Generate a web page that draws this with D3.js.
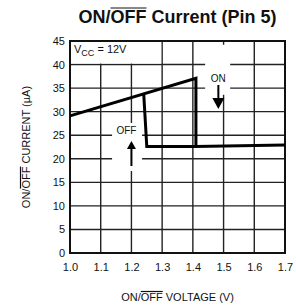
<!DOCTYPE html>
<html>
<head>
<script src="https://d3js.org/d3.v7.min.js"></script>
<style>
  body { margin: 0; background: #fff; }
  text { font-family: "Liberation Sans", Arial, sans-serif; fill: #111; }
</style>
</head>
<body>
<div id="chart"></div>
<script>
// tick labels
var xTicks = [1.0, 1.1, 1.2, 1.3, 1.4, 1.5, 1.6, 1.7];
var yTicks = [0, 5, 10, 15, 20, 25, 30, 35, 40, 45];

// ON trace: rises with voltage, snaps down at ~1.41 V, then stays flat
var onVoltage = [1.0, 1.41, 1.41, 1.7];
var onCurrent = [29.1, 37.1, 22.6, 22.9];
// OFF trace: drops back at ~1.24 V
var offVoltage = [1.24, 1.25, 1.41];
var offCurrent = [33.8, 22.6, 22.6];

var width = 296, height = 308;
// plot box (window.top is reserved, so prefix the names)
var pLeft = 70, pRight = 285, pTop = 41, pBottom = 253;

var svg = d3.select("#chart").append("svg")
    .attr("width", width)
    .attr("height", height);

var x = d3.scaleLinear().domain([1.0, 1.7]).range([pLeft, pRight]);
var y = d3.scaleLinear().domain([0, 45]).range([pBottom, pTop]);

// draw a bar over part of a text element (the "OFF" in ON/OFF)
function overline(textNode, start, len, g, lift) {
  var p = textNode.getStartPositionOfChar(start);
  var w = textNode.getSubStringLength(start, len);
  g.append("line")
    .attr("x1", p.x).attr("x2", p.x + w)
    .attr("y1", p.y - lift).attr("y2", p.y - lift)
    .attr("stroke", "#111")
    .attr("stroke-width", 1.2);
}

// title
var title = svg.append("text")
    .attr("x", (pLeft + pRight) / 2)
    .attr("y", 23)
    .attr("text-anchor", "middle")
    .style("font-size", "18px")
    .style("font-weight", "bold")
    .text("ON/OFF Current (Pin 5)");
overline(title.node(), 3, 3, svg, 15);

// grid
svg.append("g")
    .selectAll("line")
    .data(xTicks)
    .enter().append("line")
    .attr("x1", function(d) { return x(d); })
    .attr("x2", function(d) { return x(d); })
    .attr("y1", pTop).attr("y2", pBottom)
    .attr("stroke", "#222")
    .attr("stroke-width", 1.4);

svg.append("g")
    .selectAll("line")
    .data(yTicks)
    .enter().append("line")
    .attr("x1", pLeft).attr("x2", pRight)
    .attr("y1", function(d) { return y(d); })
    .attr("y2", function(d) { return y(d); })
    .attr("stroke", "#222")
    .attr("stroke-width", 1.4);

// axes (labels only)
var xAxis = svg.append("g")
    .attr("transform", "translate(0," + pBottom + ")")
    .call(d3.axisBottom(x).tickValues(xTicks).tickSize(0).tickPadding(10)
      .tickFormat(d3.format(".1f")));
var yAxis = svg.append("g")
    .attr("transform", "translate(" + pLeft + ",0)")
    .call(d3.axisLeft(y).tickValues(yTicks).tickSize(0).tickPadding(5));
[xAxis, yAxis].forEach(function(a) {
  a.select(".domain").remove();
  a.selectAll("text")
    .style("font-size", "11px")
    .style("font-family", "'Liberation Sans', Arial, sans-serif")
    .attr("fill", "#111");
});

// white boxes behind annotations
svg.append("rect")
    .attr("x", x(1.0) + 1).attr("y", y(45) + 1)
    .attr("width", x(1.3) - x(1.0) - 2).attr("height", y(40) - y(45) - 2)
    .attr("fill", "#fff");
svg.append("rect")
    .attr("x", x(1.44)).attr("y", y(44.2))
    .attr("width", 25).attr("height", 50)
    .attr("fill", "#fff");
svg.append("rect")
    .attr("x", x(1.137)).attr("y", y(27.6))
    .attr("width", 30).attr("height", 48)
    .attr("fill", "#fff");

// frame
svg.append("rect")
    .attr("x", pLeft).attr("y", pTop)
    .attr("width", pRight - pLeft).attr("height", pBottom - pTop)
    .attr("fill", "none")
    .attr("stroke", "#111")
    .attr("stroke-width", 2);

// curves
var line = d3.line()
    .x(function(d) { return x(d[0]); })
    .y(function(d) { return y(d[1]); });

svg.append("path")
    .datum(d3.zip(onVoltage, onCurrent))
    .attr("d", line)
    .attr("fill", "none")
    .attr("stroke", "#000")
    .attr("stroke-width", 3)
    .attr("stroke-linejoin", "miter");

svg.append("path")
    .datum(d3.zip(offVoltage, offCurrent))
    .attr("d", line)
    .attr("fill", "none")
    .attr("stroke", "#000")
    .attr("stroke-width", 3)
    .attr("stroke-linejoin", "miter");

// VCC label
var vcc = svg.append("text")
    .attr("x", x(1.0) + 4)
    .attr("y", 53)
    .style("font-size", "11px");
vcc.append("tspan").text("V");
vcc.append("tspan").attr("dy", 3).style("font-size", "9px").text("CC");
vcc.append("tspan").attr("dy", -3).text(" = 12V");

// ON annotation
var onX = x(1.483);
svg.append("text")
    .attr("x", onX).attr("y", 82)
    .attr("text-anchor", "middle")
    .style("font-size", "10px")
    .text("ON");
svg.append("line")
    .attr("x1", onX).attr("x2", onX)
    .attr("y1", 85).attr("y2", 99)
    .attr("stroke", "#000").attr("stroke-width", 2);
svg.append("path")
    .attr("d", "M" + (onX - 6) + ",98L" + (onX + 6) + ",98L" + onX + ",109Z")
    .attr("fill", "#000");

// OFF annotation
var offX = x(1.2);
svg.append("text")
    .attr("x", offX - 5).attr("y", 134)
    .attr("text-anchor", "middle")
    .style("font-size", "10px")
    .text("OFF");
svg.append("line")
    .attr("x1", offX).attr("x2", offX)
    .attr("y1", 147).attr("y2", 166)
    .attr("stroke", "#000").attr("stroke-width", 2);
svg.append("path")
    .attr("d", "M" + (offX - 4.5) + ",149L" + (offX + 4.5) + ",149L" + offX + ",141Z")
    .attr("fill", "#000");

// axis titles
var xt = svg.append("text")
    .attr("x", (pLeft + pRight) / 2)
    .attr("y", 301)
    .attr("text-anchor", "middle")
    .style("font-size", "11px")
    .text("ON/OFF VOLTAGE (V)");
overline(xt.node(), 3, 3, svg, 9.5);

var yg = svg.append("g")
    .attr("transform", "translate(30," + ((pTop + pBottom) / 2) + ") rotate(-90)");
var yt = yg.append("text")
    .attr("x", 0).attr("y", 0)
    .attr("text-anchor", "middle")
    .style("font-size", "11px")
    .text("ON/OFF CURRENT (\u00b5A)");
overline(yt.node(), 3, 3, yg, 9.5);
</script>
</body>
</html>
